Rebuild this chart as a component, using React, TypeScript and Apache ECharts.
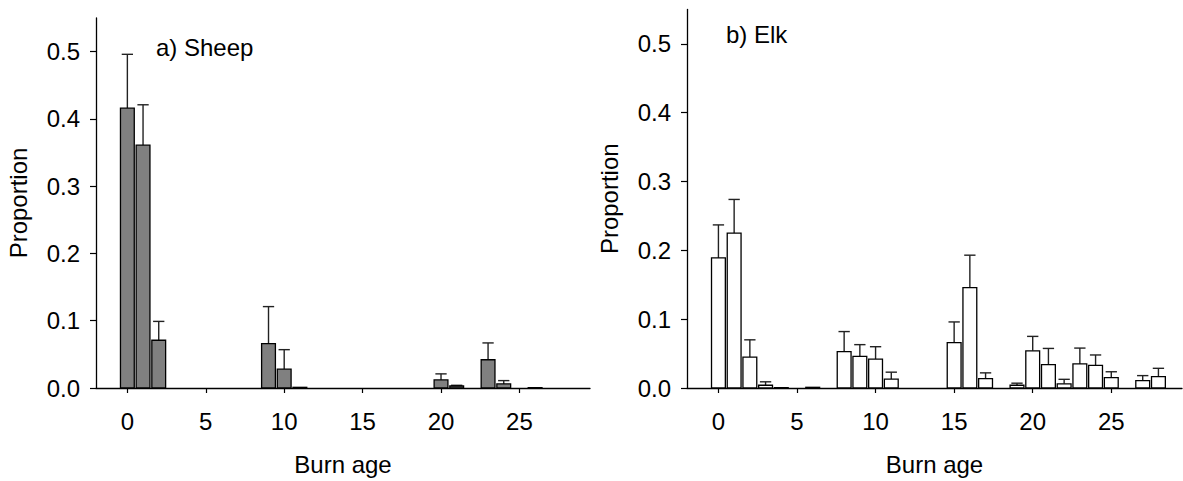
import React, { useEffect, useRef } from "react";
import * as echarts from "echarts";

// Sheep (panel a)
const sheepAge = [0, 1, 2, 9, 10, 11, 20, 21, 23, 24, 26];
const sheepMean = [0.416, 0.361, 0.071, 0.066, 0.028, 0.001, 0.012, 0.003, 0.042, 0.006, 0.0005];
const sheepUpper = [0.496, 0.421, 0.099, 0.121, 0.057, 0.001, 0.021, 0.004, 0.067, 0.011, 0.0005];

// Elk (panel b)
const elkAge = [0, 1, 2, 3, 4, 6, 8, 9, 10, 11, 15, 16, 17, 19, 20, 21, 22, 23, 24, 25, 27, 28];
const elkMean = [0.189, 0.225, 0.045, 0.004, 0.0005, 0.001, 0.053, 0.046, 0.042, 0.013, 0.066, 0.146, 0.0135, 0.004, 0.054, 0.034, 0.006, 0.035, 0.033, 0.015, 0.0106, 0.0164];
const elkUpper = [0.237, 0.274, 0.07, 0.009, 0.0005, 0.001, 0.082, 0.063, 0.06, 0.023, 0.096, 0.193, 0.022, 0.007, 0.075, 0.0575, 0.0126, 0.058, 0.048, 0.0236, 0.018, 0.0286];

const xTicks = [0, 5, 10, 15, 20, 25];
const yTicks = [0, 0.1, 0.2, 0.3, 0.4, 0.5];

const FONT = "Arial, 'Liberation Sans', Helvetica, sans-serif";
const HW = 0.44;

function makeRender(fill: string) {
  return (params: any, api: any) => {
    const x = api.value(0);
    const y = api.value(1);
    const up = api.value(2);
    const p0 = api.coord([x - HW, 0]);
    const p1 = api.coord([x + HW, y]);
    const children: any[] = [];
    if (up > y) {
      const a = api.coord([x, y]);
      const b = api.coord([x, up]);
      const c0 = api.coord([x - 0.36, up]);
      const c1 = api.coord([x + 0.36, up]);
      children.push({
        type: "line",
        shape: { x1: a[0], y1: a[1], x2: b[0], y2: b[1] },
        style: { stroke: "#222", lineWidth: 1.4 },
      });
      children.push({
        type: "line",
        shape: { x1: c0[0], y1: c0[1], x2: c1[0], y2: c1[1] },
        style: { stroke: "#222", lineWidth: 1.4 },
      });
    }
    children.push({
      type: "rect",
      shape: { x: p0[0], y: p1[1], width: p1[0] - p0[0], height: p0[1] - p1[1] },
      style: { fill, stroke: "#000", lineWidth: 1.3 },
    });
    return { type: "group", children };
  };
}

function xAxisCfg(gridIndex: number) {
  return {
    type: "value",
    gridIndex,
    min: -2,
    max: 29.5,
    name: "Burn age",
    nameLocation: "middle",
    nameGap: 64,
    nameTextStyle: { fontFamily: FONT, fontSize: 24, color: "#000" },
    axisLine: { onZero: false, lineStyle: { color: "#000", width: 1.3 } },
    axisTick: { show: true, inside: false, length: 5, customValues: xTicks, lineStyle: { color: "#000", width: 1.2 } },
    axisLabel: { customValues: xTicks, margin: 21, fontFamily: FONT, fontSize: 24, color: "#000" },
    splitLine: { show: false },
  };
}

function yAxisCfg(gridIndex: number) {
  return {
    type: "value",
    gridIndex,
    min: 0,
    max: 0.55,
    interval: 0.1,
    name: "Proportion",
    nameLocation: "middle",
    nameGap: 66,
    nameTextStyle: { fontFamily: FONT, fontSize: 24, color: "#000" },
    axisLine: { show: true, onZero: false, lineStyle: { color: "#000", width: 1.3 } },
    axisTick: { show: true, inside: false, length: 6, customValues: yTicks, lineStyle: { color: "#000", width: 1.2 } },
    axisLabel: {
      customValues: yTicks,
      margin: 16,
      fontFamily: FONT,
      fontSize: 24,
      color: "#000",
      formatter: (v: number) => v.toFixed(1),
    },
    splitLine: { show: false },
  };
}

export default function App() {
  const ref = useRef<HTMLDivElement>(null);
  useEffect(() => {
    if (!ref.current) return;
    const chart = echarts.init(ref.current, null, { renderer: "svg" });
    const sheepData = sheepAge.map((a, i) => [a, sheepMean[i], sheepUpper[i]]);
    const elkData = elkAge.map((a, i) => [a, elkMean[i], elkUpper[i]]);
    chart.setOption({
      animation: false,
      backgroundColor: "#fff",
      grid: [
        { left: 96, top: 18, width: 494, height: 374 },
        { left: 687, top: 9.5, width: 495, height: 379.5 },
      ],
      xAxis: [xAxisCfg(0), xAxisCfg(1)],
      yAxis: [yAxisCfg(0), yAxisCfg(1)],
      graphic: [
        {
          type: "text",
          left: 156,
          top: 35,
          style: { text: "a) Sheep", fontFamily: FONT, fontSize: 24, fill: "#000" },
        },
        {
          type: "text",
          left: 726,
          top: 22,
          style: { text: "b) Elk", fontFamily: FONT, fontSize: 24, fill: "#000" },
        },
      ],
      series: [
        {
          type: "custom",
          xAxisIndex: 0,
          yAxisIndex: 0,
          renderItem: makeRender("#808080"),
          encode: { x: 0, y: 1 },
          data: sheepData,
          clip: false,
        },
        {
          type: "custom",
          xAxisIndex: 1,
          yAxisIndex: 1,
          renderItem: makeRender("#ffffff"),
          encode: { x: 0, y: 1 },
          data: elkData,
          clip: false,
        },
      ],
    });
    return () => chart.dispose();
  }, []);
  return (
    <div
      ref={ref}
      style={{ position: "fixed", left: 0, top: 0, width: 1183, height: 481, background: "#fff" }}
    />
  );
}
